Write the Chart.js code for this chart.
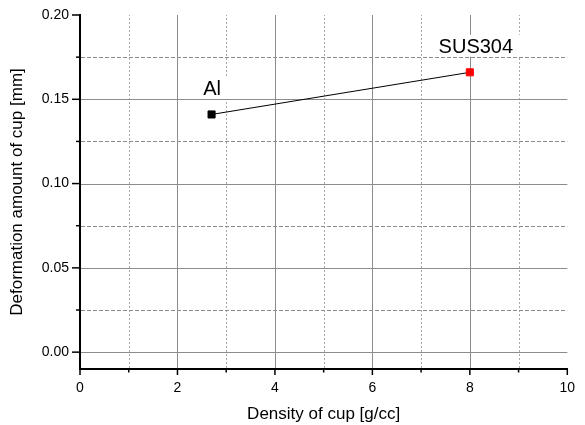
<!DOCTYPE html>
<html><head><meta charset="utf-8">
<script src="https://cdn.jsdelivr.net/npm/chart.js@4/dist/chart.umd.min.js"></script>
<style>html,body{margin:0;padding:0;background:#fff;}#wrap{width:585px;height:425px;}</style>
</head><body><div id="wrap"><canvas id="c" width="585" height="425"></canvas></div>
<script>
const materials = ['Al', 'SUS304'];
const densities = [2.7, 8.0];
const deformations = [0.141, 0.166];
const pointColors = ['#000000', '#ff0000'];
const xMajorTicks = [0, 2, 4, 6, 8, 10];
const xMinorTicks = [1, 3, 5, 7, 9];
const yMajorTicks = [0.00, 0.05, 0.10, 0.15, 0.20];
const yMinorTicks = [0.025, 0.075, 0.125, 0.175];
const xTitle = 'Density of cup [g/cc]';
const yTitle = 'Deformation amount of cup [mm]';

const FONT = 'Arial, "Liberation Sans", sans-serif';

const gridPlugin = {
  id: 'gridPlugin',
  beforeDatasetsDraw(chart) {
    const ctx = chart.ctx, a = chart.chartArea;
    const xs = chart.scales.x, ys = chart.scales.y;
    ctx.save();
    ctx.lineWidth = 1;
    ctx.strokeStyle = '#a8a8a8';
    ctx.setLineDash([2, 2]);
    xMinorTicks.forEach(v => {
      const px = Math.round(xs.getPixelForValue(v)) + 0.5;
      ctx.beginPath(); ctx.moveTo(px, a.bottom - 1); ctx.lineTo(px, a.top); ctx.stroke();
    });
    ctx.strokeStyle = '#8c8c8c';
    ctx.setLineDash([4, 2]);
    yMinorTicks.forEach(v => {
      const py = Math.round(ys.getPixelForValue(v)) + 0.5;
      ctx.beginPath(); ctx.moveTo(a.left + 1, py); ctx.lineTo(a.right, py); ctx.stroke();
    });
    ctx.setLineDash([]);
    ctx.strokeStyle = '#8c8c8c';
    xMajorTicks.forEach(v => {
      if (v === xMajorTicks[0] || v === xMajorTicks[xMajorTicks.length - 1]) return;
      const px = Math.round(xs.getPixelForValue(v)) + 0.5;
      ctx.beginPath(); ctx.moveTo(px, a.bottom - 1); ctx.lineTo(px, a.top); ctx.stroke();
    });
    yMajorTicks.forEach(v => {
      if (v === yMajorTicks[yMajorTicks.length - 1]) return;
      const py = Math.round(ys.getPixelForValue(v)) + 0.5;
      ctx.beginPath(); ctx.moveTo(a.left + 1, py); ctx.lineTo(a.right, py); ctx.stroke();
    });
    ctx.strokeStyle = '#000';
    ctx.lineWidth = 1.5;
    yMajorTicks.forEach(v => {
      const py = ys.getPixelForValue(v);
      ctx.beginPath(); ctx.moveTo(a.left - 8, py); ctx.lineTo(a.left, py); ctx.stroke();
    });
    yMinorTicks.forEach(v => {
      const py = ys.getPixelForValue(v);
      ctx.beginPath(); ctx.moveTo(a.left - 4, py); ctx.lineTo(a.left, py); ctx.stroke();
    });
    xMajorTicks.forEach(v => {
      const px = xs.getPixelForValue(v);
      ctx.beginPath(); ctx.moveTo(px, a.bottom); ctx.lineTo(px, a.bottom + 6); ctx.stroke();
    });
    xMinorTicks.forEach(v => {
      const px = xs.getPixelForValue(v);
      ctx.beginPath(); ctx.moveTo(px, a.bottom); ctx.lineTo(px, a.bottom + 3.5); ctx.stroke();
    });
    ctx.font = '20px ' + FONT;
    ctx.textBaseline = 'alphabetic';
    ctx.textAlign = 'center';
    const labelDx = [0.5, 6];
    materials.forEach((m, i) => {
      const px = xs.getPixelForValue(densities[i]) + labelDx[i];
      const py = ys.getPixelForValue(deformations[i]) - 19.5;
      const w = ctx.measureText(m).width;
      ctx.fillStyle = '#fff';
      ctx.fillRect(px - w / 2 - 8, py - 18, w + 16, 22);
      ctx.fillStyle = '#000';
      ctx.fillText(m, px, py);
    });
    ctx.restore();
  }
};

new Chart(document.getElementById('c'), {
  type: 'scatter',
  data: {
    datasets: [{
      data: densities.map((d, i) => ({ x: d, y: deformations[i] })),
      showLine: true,
      borderColor: '#000',
      borderWidth: 1,
      pointStyle: 'rect',
      pointRadius: 5,
      pointBorderWidth: 1,
      pointBackgroundColor: pointColors,
      pointBorderColor: pointColors
    }]
  },
  options: {
    responsive: false,
    devicePixelRatio: 1,
    animation: false,
    layout: { padding: { top: 15, right: 17.7, left: 0, bottom: 0 } },
    plugins: { legend: { display: false }, tooltip: { enabled: false } },
    scales: {
      x: {
        type: 'linear', min: 0, max: 10,
        afterFit(s) { s.height = 56; s.paddingLeft = 0; s.paddingRight = 0; },
        afterBuildTicks(s) { s.ticks = xMajorTicks.map(v => ({ value: v })); },
        grid: { display: false, drawTicks: false },
        border: { display: true, color: '#000', width: 2 },
        ticks: { color: '#000', padding: 11, maxRotation: 0, font: { family: FONT, size: 14 }, callback: v => String(v) },
        title: { display: true, text: xTitle, color: '#000', font: { family: FONT, size: 17 }, padding: { top: 0, bottom: 0 } }
      },
      y: {
        type: 'linear', min: -0.01, max: 0.2,
        afterFit(s) { s.width = 80; s.paddingTop = 0; s.paddingBottom = 0; },
        afterBuildTicks(s) { s.ticks = yMajorTicks.map(v => ({ value: v })); },
        grid: { display: false, drawTicks: false },
        border: { display: true, color: '#000', width: 2 },
        ticks: { color: '#000', padding: 11, font: { family: FONT, size: 14 }, callback: v => Number(v).toFixed(2) },
        title: { display: true, text: yTitle, color: '#000', font: { family: FONT, size: 17 }, padding: { top: 7, bottom: 0 } }
      }
    }
  },
  plugins: [gridPlugin]
});
</script></body></html>
